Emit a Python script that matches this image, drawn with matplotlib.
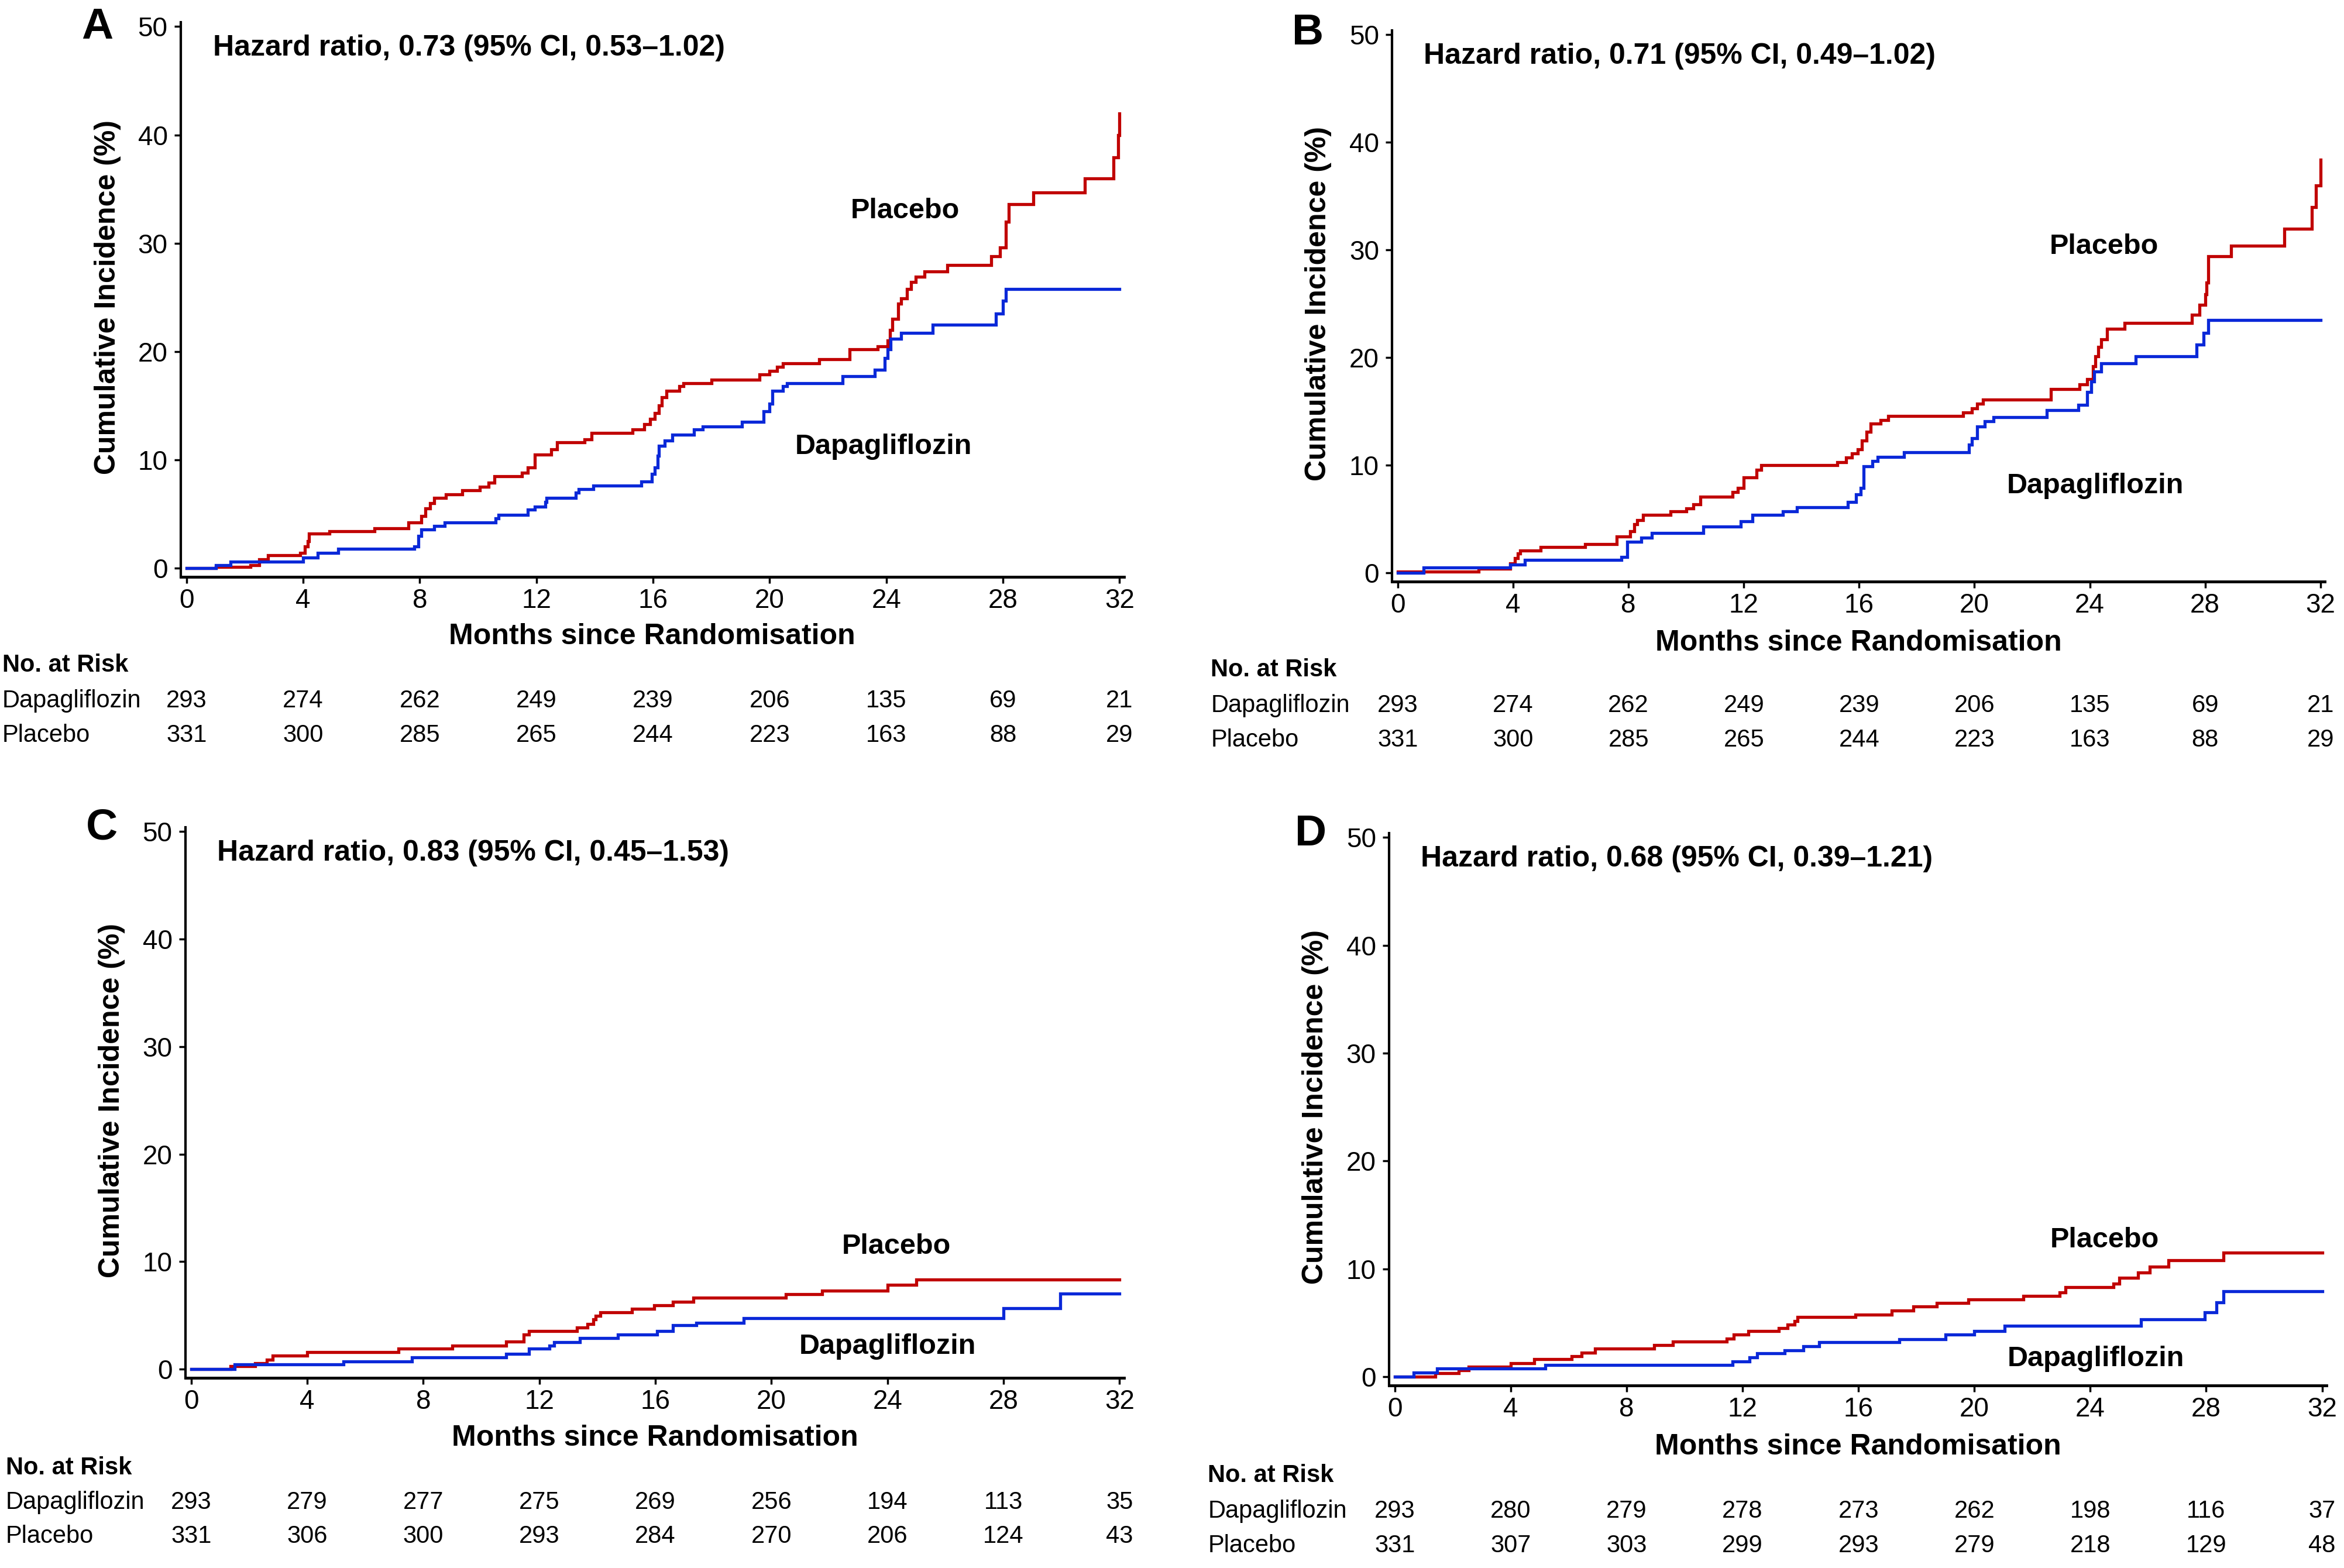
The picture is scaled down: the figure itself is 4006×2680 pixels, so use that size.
import matplotlib
matplotlib.use("Agg")
import matplotlib.pyplot as plt
import matplotlib.transforms as mtransforms

plt.rcParams['font.family'] = ['Liberation Sans', 'DejaVu Sans']

RED = '#C00000'
BLUE = '#0A28D8'

months = [0, 4, 8, 12, 16, 20, 24, 28, 32]

# --- panel A: step curves (time in months, incidence %) ---
a_pla_t = [0, 1.0, 2.2, 2.5, 2.8, 3.9, 4.05, 4.15, 4.2, 4.9, 6.45, 7.6, 8.05, 8.2, 8.35, 8.5,
           8.9, 9.45, 10.05, 10.35, 10.55, 11.5, 11.7, 11.95, 12.5, 12.7, 13.65, 13.9, 15.3,
           15.7, 15.9, 16.05, 16.2, 16.3, 16.45, 16.9, 17.05, 18.0, 19.65, 20.0, 20.25, 20.45,
           21.7, 22.75, 23.7, 24.05, 24.12, 24.2, 24.4, 24.5, 24.7, 24.85, 25.0, 25.3, 26.1,
           27.6, 27.9, 28.1, 28.2, 29.05, 30.8, 31.8, 31.95, 32.0]
a_pla_y = [0, 0.1, 0.3, 0.8, 1.2, 1.4, 2.0, 2.5, 3.2, 3.4, 3.7, 4.2, 4.8, 5.5, 6.0, 6.5,
           6.8, 7.2, 7.5, 7.9, 8.5, 8.8, 9.3, 10.5, 11.0, 11.6, 11.9, 12.5, 12.8,
           13.3, 13.8, 14.3, 15.0, 15.8, 16.4, 16.8, 17.1, 17.4, 17.9, 18.2, 18.6, 18.9,
           19.3, 20.2, 20.5, 21.0, 22.0, 23.0, 24.4, 24.9, 25.8, 26.4, 26.9, 27.4, 28.0,
           28.8, 29.6, 32.0, 33.6, 34.7, 36.0, 37.9, 40.0, 42.0]
a_dap_t = [0, 1.0, 1.5, 4.0, 4.5, 5.2, 7.8, 7.95, 8.05, 8.5, 8.85, 10.6, 10.7, 11.7, 11.95,
           12.3, 12.35, 13.35, 13.45, 13.95, 15.6, 15.95, 16.05, 16.15, 16.2, 16.4, 16.65,
           17.4, 17.7, 19.05, 19.8, 20.0, 20.1, 20.45, 20.6, 22.5, 23.6, 23.95, 24.05, 24.15,
           24.5, 25.6, 27.75, 28.0, 28.1, 32.0]
a_dap_y = [0, 0.3, 0.6, 1.0, 1.4, 1.8, 2.0, 3.0, 3.6, 3.9, 4.2, 4.6, 4.9, 5.4, 5.7,
           6.1, 6.5, 7.0, 7.3, 7.6, 8.0, 8.7, 9.3, 10.4, 11.3, 11.8, 12.3,
           12.8, 13.1, 13.5, 14.5, 15.2, 16.4, 16.8, 17.1, 17.7, 18.3, 19.4, 20.2, 21.2,
           21.7, 22.5, 23.5, 24.7, 25.8, 25.8]

# --- panel B ---
b_pla_t = [0, 2.8, 3.9, 4.05, 4.15, 4.25, 4.95, 6.5, 7.6, 8.05, 8.2, 8.3, 8.5, 9.45, 10.0,
           10.25, 10.5, 11.6, 11.8, 12.0, 12.45, 12.6, 15.25, 15.55, 15.75, 15.95, 16.1,
           16.25, 16.4, 16.75, 17.0, 19.6, 19.9, 20.1, 20.3, 22.65, 23.65, 23.9, 24.1, 24.2,
           24.3, 24.4, 24.6, 25.2, 27.55, 27.8, 28.0, 28.05, 28.1, 28.9, 30.75, 31.7, 31.85,
           32.0]
b_pla_y = [0.1, 0.4, 0.9, 1.4, 1.8, 2.1, 2.4, 2.7, 3.4, 3.9, 4.5, 4.9, 5.4, 5.7, 6.0,
           6.4, 7.1, 7.5, 7.9, 8.9, 9.6, 10.0, 10.3, 10.7, 11.1, 11.5, 12.3,
           13.1, 13.9, 14.2, 14.6, 14.9, 15.3, 15.7, 16.1, 17.1, 17.5, 18.0, 19.2, 20.1,
           21.0, 21.7, 22.7, 23.2, 24.0, 24.9, 25.9, 27.0, 29.4, 30.4, 32.0, 34.0, 36.0,
           38.4]
b_dap_t = [0, 0.9, 3.9, 4.4, 7.75, 7.95, 8.45, 8.8, 10.6, 11.9, 12.3, 13.35, 13.85, 15.6,
           15.9, 16.05, 16.15, 16.45, 16.65, 17.55, 19.8, 19.9, 20.1, 20.35, 20.65, 22.5,
           23.6, 23.9, 24.05, 24.15, 24.4, 25.6, 27.7, 27.95, 28.1, 32.0]
b_dap_y = [0, 0.5, 0.8, 1.2, 1.5, 2.9, 3.3, 3.7, 4.3, 4.8, 5.4, 5.7, 6.1, 6.6,
           7.3, 7.9, 9.9, 10.4, 10.8, 11.2, 11.9, 12.5, 13.6, 14.1, 14.5, 15.1,
           15.6, 16.8, 17.8, 18.7, 19.5, 20.1, 21.2, 22.3, 23.5, 23.5]

# --- panel C ---
c_pla_t = [0, 1.35, 2.2, 2.6, 2.8, 4.0, 7.15, 9.0, 10.85, 11.45, 11.65, 13.3, 13.65, 13.85,
           13.95, 14.1, 15.2, 15.95, 16.6, 17.3, 20.5, 21.75, 24.0, 25.0, 32.0]
c_pla_y = [0, 0.28, 0.56, 0.89, 1.26, 1.59, 1.94, 2.19, 2.56, 3.2, 3.57, 3.9, 4.22, 4.65,
           4.96, 5.28, 5.61, 5.94, 6.26, 6.63, 7.0, 7.31, 7.83, 8.31, 8.31]
c_dap_t = [0, 1.5, 5.25, 7.6, 10.85, 11.65, 12.35, 12.5, 13.4, 14.7, 16.05, 16.6, 17.4,
           19.05, 28.0, 29.95, 32.0]
c_dap_y = [0, 0.43, 0.70, 1.11, 1.44, 1.91, 2.19, 2.54, 2.91, 3.2, 3.57, 4.07, 4.33,
           4.76, 5.65, 7.04, 7.04]

# --- panel D ---
d_pla_t = [0, 1.4, 2.2, 2.55, 4.0, 4.8, 6.1, 6.45, 6.9, 8.95, 9.6, 11.45, 11.7, 12.2, 13.25,
           13.55, 13.8, 13.9, 15.9, 17.15, 17.9, 18.7, 19.8, 21.7, 22.95, 23.15, 24.8, 25.0,
           25.65, 26.05, 26.7, 28.6, 32.0]
d_pla_y = [0, 0.34, 0.61, 0.94, 1.26, 1.62, 1.93, 2.23, 2.61, 2.92, 3.28, 3.55, 3.91, 4.27,
           4.54, 4.86, 5.17, 5.53, 5.77, 6.16, 6.52, 6.83, 7.15, 7.51, 7.84, 8.29, 8.63,
           9.17, 9.68, 10.2, 10.8, 11.5, 11.5]
d_dap_t = [0, 0.65, 1.45, 5.2, 11.65, 12.25, 12.5, 13.45, 14.1, 14.65, 17.4, 19.0, 20.0,
           21.05, 25.75, 27.95, 28.35, 28.6, 32.0]
d_dap_y = [0, 0.4, 0.76, 1.12, 1.42, 1.78, 2.2, 2.47, 2.83, 3.19, 3.51, 3.91, 4.27,
           4.72, 5.32, 5.98, 6.92, 7.91, 7.91]

# --- numbers at risk ---
ab_risk_dap = [293, 274, 262, 249, 239, 206, 135, 69, 21]
ab_risk_pla = [331, 300, 285, 265, 244, 223, 163, 88, 29]
c_risk_dap = [293, 279, 277, 275, 269, 256, 194, 113, 35]
c_risk_pla = [331, 306, 300, 293, 284, 270, 206, 124, 43]
d_risk_dap = [293, 280, 279, 278, 273, 262, 198, 116, 37]
d_risk_pla = [331, 307, 303, 299, 293, 279, 218, 129, 48]

hr_text = ['Hazard ratio, 0.73 (95% CI, 0.53\u20131.02)',
           'Hazard ratio, 0.71 (95% CI, 0.49\u20131.02)',
           'Hazard ratio, 0.83 (95% CI, 0.45\u20131.53)',
           'Hazard ratio, 0.68 (95% CI, 0.39\u20131.21)']

fig = plt.figure(figsize=(40.06, 26.80), dpi=100)

# layout per panel: axes rect, letter pos, ylabel x, table label x, rows y (xlabel, header, dapa, placebo)
panels = [
    dict(rect=[0.0771, 0.6321, 0.4024, 0.3537], letter='A', lpos=(0.0415, 0.9828), ylx=0.0459,
         tx=0.001, rows=(0.5939, 0.5758, 0.5529, 0.5310),
         pla=(a_pla_t, a_pla_y), dap=(a_dap_t, a_dap_y), risk=(ab_risk_dap, ab_risk_pla),
         plab=(24.65, 33.0), dlab=(23.9, 11.2)),
    dict(rect=[0.5939, 0.6291, 0.3979, 0.3515], letter='B', lpos=(0.5580, 0.9790), ylx=0.5625,
         tx=0.5166, rows=(0.5901, 0.5729, 0.5500, 0.5281),
         pla=(b_pla_t, b_pla_y), dap=(b_dap_t, b_dap_y), risk=(ab_risk_dap, ab_risk_pla),
         plab=(24.5, 30.3), dlab=(24.2, 8.06)),
    dict(rect=[0.0791, 0.1213, 0.4004, 0.3511], letter='C', lpos=(0.0434, 0.4719), ylx=0.0478,
         tx=0.0025, rows=(0.0829, 0.0639, 0.0419, 0.0200),
         pla=(c_pla_t, c_pla_y), dap=(c_dap_t, c_dap_y), risk=(c_risk_dap, c_risk_pla),
         plab=(24.3, 11.4), dlab=(24.0, 2.1)),
    dict(rect=[0.5926, 0.1164, 0.3999, 0.3523], letter='D', lpos=(0.5593, 0.4680), ylx=0.5612,
         tx=0.5153, rows=(0.0772, 0.0591, 0.0362, 0.0143),
         pla=(d_pla_t, d_pla_y), dap=(d_dap_t, d_dap_y), risk=(d_risk_dap, d_risk_pla),
         plab=(24.5, 12.7), dlab=(24.2, 1.66)),
]

for i, p in enumerate(panels):
    ax = fig.add_axes(p['rect'])
    ax.step(p['pla'][0], p['pla'][1], where='post', color=RED, lw=3.8, solid_joinstyle='miter')
    ax.step(p['dap'][0], p['dap'][1], where='post', color=BLUE, lw=3.8, solid_joinstyle='miter')

    ax.set_xlim(-0.2, 32.15)
    ax.set_ylim(-0.8, 50.4)
    ax.set_xticks(months)
    ax.set_yticks([0, 10, 20, 30, 40, 50])
    for s in ['top', 'right']:
        ax.spines[s].set_visible(False)
    ax.spines['left'].set_linewidth(3.0)
    ax.spines['bottom'].set_linewidth(3.5)
    ax.tick_params(axis='x', length=8, width=2.5, pad=6, labelsize=33)
    ax.tick_params(axis='y', length=8, width=2.5, pad=8, labelsize=33)

    ax.text(0.9, 48, hr_text[i], fontsize=36, fontweight='bold', ha='left', va='center')
    ax.text(p['plab'][0], p['plab'][1], 'Placebo', fontsize=35, fontweight='bold',
            ha='center', va='center')
    ax.text(p['dlab'][0], p['dlab'][1], 'Dapagliflozin', fontsize=35, fontweight='bold',
            ha='center', va='center')

    # y label centred on the 0-50 range
    y_mid = ax.transData.transform((0, 25))[1]
    y_mid = fig.transFigure.inverted().transform((0, y_mid))[1]
    fig.text(p['ylx'], y_mid, 'Cumulative Incidence (%)', rotation=90, fontsize=36,
             fontweight='bold', ha='center', va='center')

    fig.text(p['lpos'][0], p['lpos'][1], p['letter'], fontsize=54, fontweight='bold',
             ha='center', va='center')

    # x label and risk table
    trans = mtransforms.blended_transform_factory(ax.transData, fig.transFigure)
    x_mid = (p['rect'][0] + p['rect'][0] + p['rect'][2]) / 2
    fig.text(x_mid, p['rows'][0], 'Months since Randomisation', fontsize=36,
             fontweight='bold', ha='center', va='center')
    fig.text(p['tx'], p['rows'][1], 'No. at Risk', fontsize=30, fontweight='bold',
             ha='left', va='center')
    fig.text(p['tx'], p['rows'][2], 'Dapagliflozin', fontsize=30, ha='left', va='center')
    fig.text(p['tx'], p['rows'][3], 'Placebo', fontsize=30, ha='left', va='center')
    for m, nd, npl in zip(months, p['risk'][0], p['risk'][1]):
        ax.text(m, p['rows'][2], str(nd), transform=trans, fontsize=30, ha='center', va='center')
        ax.text(m, p['rows'][3], str(npl), transform=trans, fontsize=30, ha='center', va='center')

fig.savefig('out.png', dpi=100, facecolor='white')
